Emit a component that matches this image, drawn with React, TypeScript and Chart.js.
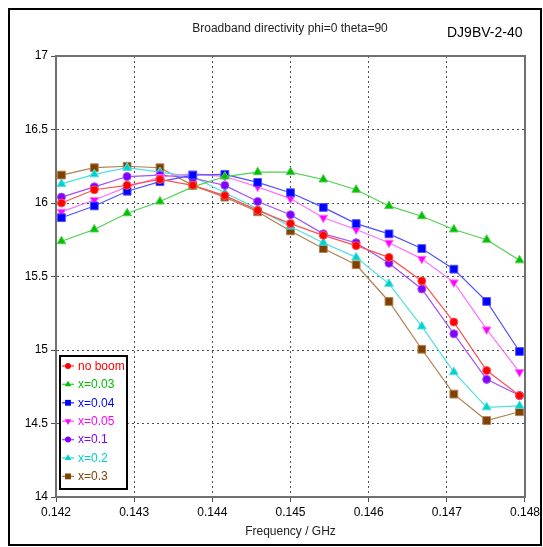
import React, { useEffect, useRef } from "react";
import { Chart, registerables } from "chart.js";

Chart.register(...registerables);

// Frequency sweep (GHz)
const freqGHz = [
  0.14207, 0.14249, 0.14291, 0.14333, 0.14375, 0.14416, 0.14458, 0.145,
  0.14542, 0.14584, 0.14626, 0.14668, 0.14709, 0.14751, 0.14793,
];

// Directivity (dBi) for each boom configuration
const noBoom = [16.0, 16.09, 16.12, 16.16, 16.12, 16.05, 15.95, 15.86, 15.78, 15.71, 15.63, 15.47, 15.19, 14.86, 14.69];
const x003 = [15.74, 15.82, 15.93, 16.01, 16.11, 16.18, 16.21, 16.21, 16.16, 16.09, 15.98, 15.91, 15.82, 15.75, 15.61];
const x004 = [15.9, 15.98, 16.08, 16.145, 16.19, 16.195, 16.14, 16.07, 15.97, 15.86, 15.79, 15.69, 15.55, 15.33, 14.99];
const x005 = [15.94, 16.02, 16.11, 16.175, 16.2, 16.18, 16.11, 16.03, 15.9, 15.82, 15.73, 15.62, 15.46, 15.14, 14.85];
const x01 = [16.04, 16.11, 16.18, 16.19, 16.17, 16.12, 16.01, 15.92, 15.79, 15.73, 15.59, 15.415, 15.11, 14.8, 14.69];
const x02 = [16.13, 16.195, 16.24, 16.21, 16.18, 16.07, 15.96, 15.84, 15.73, 15.63, 15.45, 15.16, 14.85, 14.61, 14.62];
const x03 = [16.19, 16.24, 16.25, 16.24, 16.12, 16.04, 15.94, 15.81, 15.69, 15.58, 15.33, 15.005, 14.7, 14.52, 14.58];

const seriesLabels = ["no boom", "x=0.03", "x=0.04", "x=0.05", "x=0.1", "x=0.2", "x=0.3"];
const seriesValues = [noBoom, x003, x004, x005, x01, x02, x03];
const markerColors = ["#ff0000", "#00c000", "#0000ff", "#ff00ff", "#8000ff", "#00d0d0", "#804000"];
const lineColors = ["#ff5050", "#50d050", "#5050ff", "#ff70ff", "#a050ff", "#50e0e0", "#b08050"];
const markerShapes = ["circle", "triangle", "rect", "triangle", "circle", "triangle", "rect"];
const markerRotations = [0, 0, 0, 180, 0, 0, 0];
const markerRadii = [4, 5, 5.5, 5, 4, 5, 5.5];

const xTickValues = [0.142, 0.143, 0.144, 0.145, 0.146, 0.147, 0.148];
const yTickValues = [14, 14.5, 15, 15.5, 16, 16.5, 17];

const FONT = "'Liberation Sans', Arial, sans-serif";

const W = 543;
const H = 547;
const PLOT_LEFT = 56;
const PLOT_RIGHT = 525;
const PLOT_TOP = 56;
const PLOT_BOTTOM = 497;

function drawMarker(ctx: CanvasRenderingContext2D, shape: string, rot: number, x: number, y: number, r: number) {
  ctx.beginPath();
  if (shape === "circle") {
    ctx.arc(x, y, r, 0, Math.PI * 2);
  } else if (shape === "rect") {
    const s = r * Math.SQRT1_2;
    ctx.rect(x - s, y - s, 2 * s, 2 * s);
  } else {
    const a = (rot * Math.PI) / 180 - Math.PI / 2;
    for (let k = 0; k < 3; k++) {
      const t = a + (k * 2 * Math.PI) / 3;
      const px = x + Math.cos(t) * r;
      const py = y + Math.sin(t) * r;
      if (k === 0) ctx.moveTo(px, py);
      else ctx.lineTo(px, py);
    }
    ctx.closePath();
  }
  ctx.fill();
}

// Frame, heading texts, plot border and the in-plot legend box
const decorPlugin = {
  id: "decor",
  beforeDraw(chart: any) {
    const ctx = chart.ctx;
    ctx.save();
    ctx.fillStyle = "#ffffff";
    ctx.fillRect(0, 0, W, H);
    ctx.restore();
  },
  afterDraw(chart: any) {
    const ctx = chart.ctx;
    const area = chart.chartArea;
    ctx.save();
    // plot border
    ctx.strokeStyle = "#707070";
    ctx.lineWidth = 2;
    ctx.strokeRect(area.left, area.top, area.right - area.left, area.bottom - area.top);

    // outer frame
    ctx.strokeStyle = "#000000";
    ctx.lineWidth = 2;
    ctx.strokeRect(9, 9, 532, 536);

    // heading
    ctx.fillStyle = "#222222";
    ctx.font = `12px ${FONT}`;
    ctx.textAlign = "center";
    ctx.textBaseline = "middle";
    ctx.fillText("Broadband directivity phi=0 theta=90", 290, 29);
    ctx.font = `14px ${FONT}`;
    ctx.textAlign = "left";
    ctx.fillStyle = "#000000";
    ctx.fillText("DJ9BV-2-40", 447, 33);

    // legend
    const lx = 60;
    const ly = 356;
    const lw = 67;
    const lh = 133;
    ctx.fillStyle = "#ffffff";
    ctx.fillRect(lx, ly, lw, lh);
    ctx.strokeStyle = "#000000";
    ctx.lineWidth = 2;
    ctx.strokeRect(lx, ly, lw, lh);
    ctx.font = `12px ${FONT}`;
    ctx.textBaseline = "middle";
    chart.data.datasets.forEach((ds: any, i: number) => {
      const cy = ly + 10 + i * 18.4;
      const cx = lx + 8;
      ctx.strokeStyle = lineColors[i];
      ctx.lineWidth = 1.5;
      ctx.beginPath();
      ctx.moveTo(cx - 6, cy);
      ctx.lineTo(cx + 6, cy);
      ctx.stroke();
      ctx.fillStyle = markerColors[i];
      drawMarker(ctx, markerShapes[i], markerRotations[i], cx, cy, markerRadii[i] * 0.75);
      ctx.fillStyle = markerColors[i];
      ctx.textAlign = "left";
      ctx.fillText(ds.label, lx + 18, cy + 0.5);
    });
    ctx.restore();
  },
};

export default function App() {
  const canvasRef = useRef<HTMLCanvasElement | null>(null);

  useEffect(() => {
    if (!canvasRef.current) return;
    const datasets = seriesValues.map((vals, i) => ({
      label: seriesLabels[i],
      data: freqGHz.map((f, j) => ({ x: f, y: vals[j] })),
      borderColor: lineColors[i],
      backgroundColor: markerColors[i],
      borderWidth: 1.2,
      pointStyle: markerShapes[i] as any,
      pointRotation: markerRotations[i],
      pointRadius: markerRadii[i],
      pointBorderColor: lineColors[i],
      pointBorderWidth: 1,
      pointBackgroundColor: markerColors[i],
      tension: 0,
      fill: false,
    }));

    const chart = new Chart(canvasRef.current, {
      type: "line",
      data: { datasets },
      options: {
        responsive: false,
        animation: false,
        devicePixelRatio: 1,
        layout: {
          padding: { left: 0, top: PLOT_TOP, right: W - PLOT_RIGHT, bottom: 0 },
        },
        plugins: {
          legend: { display: false },
          tooltip: { enabled: false },
          title: { display: false },
        },
        scales: {
          x: {
            type: "linear",
            min: 0.142,
            max: 0.148,
            afterFit(scale: any) {
              scale.height = H - PLOT_BOTTOM;
            },
            afterBuildTicks(scale: any) {
              scale.ticks = xTickValues.map((v) => ({ value: v }));
            },
            ticks: {
              color: "#000000",
              font: { family: FONT, size: 12 },
              padding: 3,
              maxRotation: 0,
              autoSkip: false,
              callback: (v: any) => Number(v).toFixed(3),
            },
            grid: {
              color: "#505050",
              lineWidth: 1,
              drawTicks: true,
              tickLength: 5,
              tickColor: "#505050",
              tickWidth: 1,
            },
            border: { display: true, color: "#505050", width: 1, dash: [2, 3] },
            title: {
              display: true,
              text: "Frequency / GHz",
              color: "#222222",
              font: { family: FONT, size: 12 },
              padding: { top: 0, bottom: 8 },
            },
          },
          y: {
            type: "linear",
            min: 14,
            max: 17,
            afterFit(scale: any) {
              scale.width = PLOT_LEFT;
            },
            afterBuildTicks(scale: any) {
              scale.ticks = yTickValues.map((v) => ({ value: v }));
            },
            ticks: {
              color: "#000000",
              font: { family: FONT, size: 12 },
              padding: 3,
              autoSkip: false,
              callback: (v: any) => String(v),
            },
            grid: {
              color: "#505050",
              lineWidth: 1,
              drawTicks: true,
              tickLength: 5,
              tickColor: "#505050",
              tickWidth: 1,
            },
            border: { display: true, color: "#505050", width: 1, dash: [2, 3] },
          },
        },
      },
      plugins: [decorPlugin],
    });
    return () => chart.destroy();
  }, []);

  return (
    <canvas
      ref={canvasRef}
      width={W}
      height={H}
      style={{ position: "fixed", left: 0, top: 0, width: W, height: H }}
    />
  );
}
